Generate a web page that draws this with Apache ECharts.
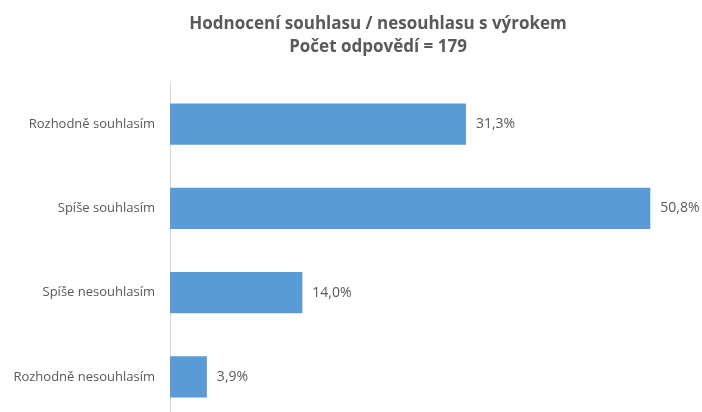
<!DOCTYPE html>
<html>
<head>
<meta charset="utf-8">
<script src="https://cdn.jsdelivr.net/npm/echarts@6/dist/echarts.min.js"></script>
<style>
  html, body { margin: 0; padding: 0; background: #fff; }
  #main { width: 702px; height: 412px; }
</style>
</head>
<body>
<div id="main"></div>
<script>
// kategorie odshora dolů
const categories = ['Rozhodně souhlasím', 'Spíše souhlasím', 'Spíše nesouhlasím', 'Rozhodně nesouhlasím'];
// podíl odpovědí v %
const values = [31.3, 50.8, 14.0, 3.9];
const titleLines = ['Hodnocení souhlasu / nesouhlasu s výrokem', 'Počet odpovědí = 179'];

const chart = echarts.init(document.getElementById('main'));
const option = {
  animation: false,
  backgroundColor: '#ffffff',
  title: {
    text: titleLines.join('\n'),
    left: 373,
    top: 8,
    textAlign: 'center',
    textStyle: {
      fontFamily: 'Open Sans',
      fontSize: 17,
      fontWeight: 'bold',
      color: '#595959',
      lineHeight: 23
    }
  },
  // mřížka přesahuje spodní okraj, jako v původním grafu
  grid: { left: 170, top: 82, width: 520, height: 337, outerBoundsMode: 'none' },
  xAxis: {
    type: 'value',
    min: 0,
    max: 55,
    show: false
  },
  yAxis: {
    type: 'category',
    inverse: true,
    data: categories,
    axisLine: { show: true, lineStyle: { color: '#d9d9d9', width: 1 } },
    axisTick: { show: false },
    axisLabel: {
      margin: 15,
      fontFamily: 'Open Sans',
      fontSize: 13,
      color: '#595959'
    }
  },
  series: [{
    type: 'bar',
    data: values,
    barWidth: '49%',
    itemStyle: { color: '#5b9bd5' },
    label: {
      show: true,
      position: 'right',
      distance: 10,
      fontFamily: 'Open Sans',
      fontSize: 14,
      color: '#595959',
      formatter: p => p.value.toFixed(1).replace('.', ',') + '%'
    }
  }]
};
chart.setOption(option);
</script>
</body>
</html>
